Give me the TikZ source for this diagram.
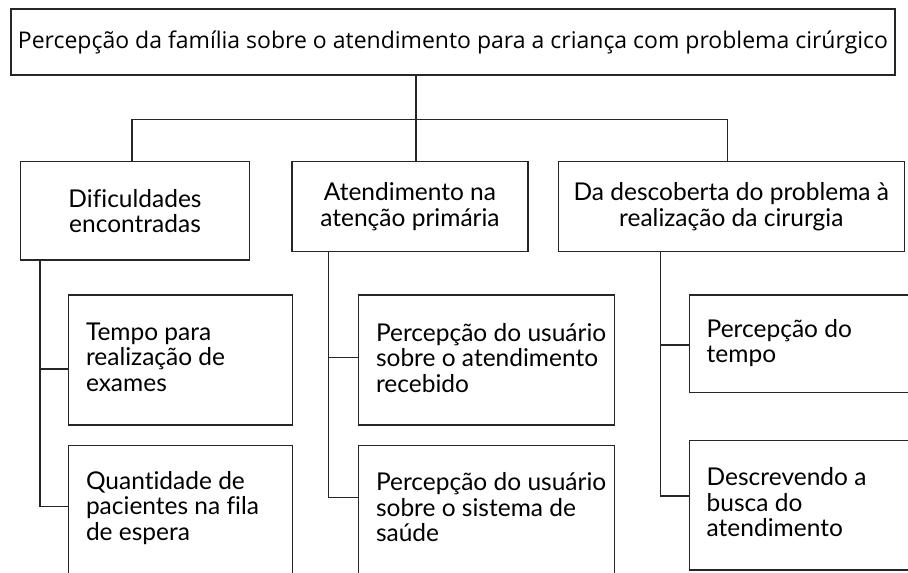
\documentclass[tikz,border=0pt]{standalone}
\usepackage{fontspec}
\setmainfont{Lato}[Ligatures=NoCommon]
\newfontfamily\titlefont{Open Sans}
\begin{document}
\begin{tikzpicture}[x=1pt,y=-1pt,
  box/.style={draw=black!85,line width=1.5pt,inner sep=0pt,outer sep=0pt},
  conn/.style={draw=black!85,line width=1.5pt},
  lbl/.style={inner sep=0pt,outer sep=0pt,anchor=base west,align=left,font=\fontsize{24.5}{25.5}\selectfont},
  clbl/.style={font=\fontsize{24.5}{25.5}\selectfont,align=center}]
\useasboundingbox (0,0) rectangle (908,573);
% top
\node[box,minimum width=884pt,minimum height=66pt,font=\titlefont\fontsize{23}{25}\selectfont] (top) at (453,42) {Percepção da família sobre o atendimento para a criança com problema cirúrgico};
% level 1
\node[box,clbl,minimum width=228.6pt,minimum height=98.3pt] (A) at (135,210.85) {Dificuldades\\encontradas};
\node[box,clbl,minimum width=236pt,minimum height=90pt] (B) at (410,206.7) {Atendimento na\\atenção primária};
\node[box,clbl,minimum width=346pt,minimum height=90pt] (C) at (731.3,206.7) {Da descoberta do problema à\\realização da cirurgia};
% level 2 boxes
\node[box,minimum width=224pt,minimum height=130pt] (A1) at (180.7,360) {};
\node[box,minimum width=224pt,minimum height=174.3pt] (A2) at (180.7,532.85) {};
\node[box,minimum width=256pt,minimum height=130pt] (B1) at (486.3,360) {};
\node[box,minimum width=256pt,minimum height=174.3pt] (B2) at (486.3,532.85) {};
\node[box,minimum width=280.7pt,minimum height=97.7pt] (C1) at (829.65,343.85) {};
\node[box,minimum width=280.7pt,minimum height=129.3pt] (C2) at (829.65,505.35) {};
% level 2 texts (anchored at the baseline of the last line)
\node[lbl] (tA1) at (86,391) {Tempo para\\realização de\\exames};
\node[lbl] (tA2) at (86,540) {Quantidade de\\pacientes na fila\\de espera};
\node[lbl] (tB1) at (376,392) {Percepção do usuário\\sobre o atendimento\\recebido};
\node[lbl] (tB2) at (376,541.7) {Percepção do usuário\\sobre o sistema de\\saúde};
\node[lbl] (tC1) at (706.7,362.5) {Percepção do\\tempo};
\node[lbl] (tC2) at (706.7,536.7) {Descrevendo a\\busca do\\atendimento};
% connectors top level
\coordinate (jM) at (416,119.3);
\coordinate (jL) at (132,119.3);
\coordinate (jR) at (727.3,119.3);
\draw[conn] (top.south -| jM) -- (jM |- B.north);
\draw[conn] (jL |- A.north) -- (jL) -- (jR) -- (jR |- C.north);
% trunks
\coordinate (bA1) at (40,369);
\coordinate (bA2) at (40,506.7);
\coordinate (bB1) at (328.3,357.3);
\coordinate (bB2) at (328.3,497.7);
\coordinate (bC1) at (660.7,345);
\coordinate (bC2) at (660.7,496);
\draw[conn] (bA1 |- A.south) -- (bA2) -- (bA2 -| A2.west);
\draw[conn] (bA1) -- (bA1 -| A1.west);
\draw[conn] (bB1 |- B.south) -- (bB2) -- (bB2 -| B2.west);
\draw[conn] (bB1) -- (bB1 -| B1.west);
\draw[conn] (bC1 |- C.south) -- (bC2) -- (bC2 -| C2.west);
\draw[conn] (bC1) -- (bC1 -| C1.west);
\end{tikzpicture}
\end{document}
